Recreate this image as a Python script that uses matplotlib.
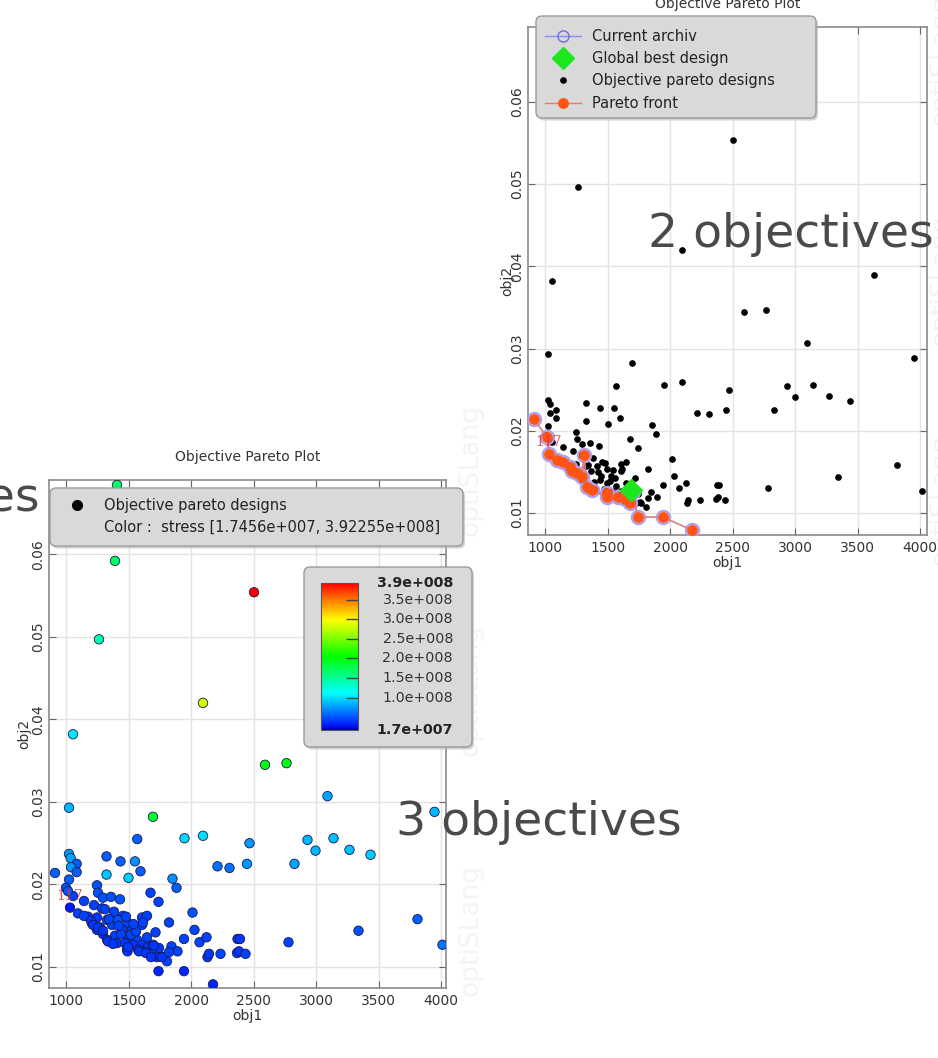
import numpy as np
import matplotlib.pyplot as plt
from matplotlib.colors import LinearSegmentedColormap, Normalize
from matplotlib.cm import ScalarMappable
from matplotlib.lines import Line2D
from matplotlib.patches import FancyBboxPatch
from matplotlib.transforms import blended_transform_factory

# designs that are not on the pareto front
obj1 = [1408, 1392, 2504, 1264, 2096, 1056, 3632, 2592, 2764, 3092, 1024, 3948, 1696,
        1570, 1948, 2096, 2468, 2932, 3140, 2996, 3268, 3436, 2828, 2212, 2308, 2448,
        1324, 1324, 1436, 1500, 1552, 1596, 1852, 1884, 1676, 1740, 2012, 2028, 1824,
        1716, 1944, 2068, 2124, 2372, 2392, 3340, 3812, 4012, 2780, 1844, 1892, 2132,
        2144, 2236, 2368, 2384, 2436, 1808, 1760,
        1024, 1037, 1085, 1040, 1085, 1024, 1248, 1000, 1056, 1256, 1296, 1360, 1432,
        1144, 1224, 1288, 1384, 1456, 1176, 1248, 1328, 1208, 1272, 1368, 1416, 1496,
        1608, 1648, 1608, 1528, 1448, 1248, 1296, 1392, 1496, 1328, 1408, 1472, 1568,
        1648, 1536, 1608, 1656, 1696, 1744, 1488, 1576, 1632, 1688, 1728, 1768, 1824,
        1616, 1344, 1480, 1440, 1520, 1560, 1420, 1540]
obj2 = [0.0684, 0.0592, 0.0554, 0.0497, 0.0420, 0.0382, 0.0390, 0.0345, 0.0347, 0.0307,
        0.0293, 0.0288, 0.0282, 0.0255, 0.0256, 0.0259, 0.0250, 0.0254, 0.0256, 0.0241,
        0.0242, 0.0236, 0.0225, 0.0222, 0.0220, 0.0225, 0.0234, 0.0212, 0.0228, 0.0208,
        0.0228, 0.0216, 0.0207, 0.0196, 0.0190, 0.0179, 0.0166, 0.0145, 0.0154, 0.0142,
        0.0134, 0.0130, 0.0136, 0.0134, 0.0134, 0.0144, 0.0158, 0.0127, 0.0130, 0.0125,
        0.0119, 0.0112, 0.0116, 0.0116, 0.0117, 0.0119, 0.0116, 0.0107, 0.0113,
        0.0237, 0.0232, 0.0225, 0.0221, 0.0215, 0.0206, 0.0199, 0.0196, 0.0186, 0.0190,
        0.0184, 0.0185, 0.0182, 0.0180, 0.0175, 0.0171, 0.0167, 0.0162, 0.0161, 0.0160,
        0.0157, 0.0153, 0.0148, 0.0151, 0.0157, 0.0153, 0.0160, 0.0162, 0.0151, 0.0145,
        0.0145, 0.0145, 0.0140, 0.0138, 0.0136, 0.0133, 0.0129, 0.0129, 0.0133, 0.0136,
        0.0127, 0.0127, 0.0124, 0.0127, 0.0123, 0.0121, 0.0121, 0.0118, 0.0116, 0.0112,
        0.0112, 0.0118, 0.0154, 0.0158, 0.0161, 0.0140, 0.0139, 0.0143, 0.0150, 0.0152]
stress = np.array([1.70, 1.67, 3.92, 1.41, 2.80, 1.04, 0.95, 2.00, 2.00, 0.80, 0.85, 0.85,
                   1.90, 0.55, 0.98, 1.00, 0.75, 0.85, 0.88, 0.85, 0.88, 0.95, 0.80, 0.62,
                   0.62, 0.75, 0.55, 0.92, 0.55, 0.95, 0.72, 0.55, 0.72, 0.55, 0.45, 0.45,
                   0.50, 0.45, 0.45, 0.45, 0.45, 0.45, 0.45, 0.40, 0.40, 0.50, 0.55, 0.60,
                   0.45, 0.45, 0.45, 0.40, 0.40, 0.45, 0.45, 0.40, 0.45, 0.45, 0.45,
                   0.75, 0.80, 0.55, 0.75, 0.55, 0.55, 0.50, 0.50, 0.45, 0.50, 0.50, 0.50,
                   0.50, 0.45, 0.45, 0.45, 0.45, 0.45, 0.40, 0.40, 0.45, 0.40, 0.40, 0.45,
                   0.50, 0.45, 0.45, 0.45, 0.45, 0.45, 0.45, 0.40, 0.40, 0.45, 0.45, 0.40,
                   0.40, 0.40, 0.45, 0.45, 0.40, 0.40, 0.40, 0.40, 0.40, 0.40, 0.40, 0.40,
                   0.40, 0.40, 0.40, 0.45, 0.45, 0.45, 0.45, 0.45, 0.45, 0.45, 0.45, 0.45]) * 1e8

# pareto front designs
front_obj1 = [912, 1016, 1032, 1096, 1144, 1200, 1216, 1256, 1296, 1312, 1336, 1376,
              1492, 1496, 1584, 1640, 1680, 1704, 1740, 1944, 2176]
front_obj2 = [0.0214, 0.0192, 0.0172, 0.0165, 0.0162, 0.0156, 0.0151, 0.0148, 0.0144,
              0.0170, 0.0131, 0.0128, 0.0119, 0.0124, 0.0119, 0.0117, 0.0112, 0.0126,
              0.0095, 0.0095, 0.0079]
front_stress = np.array([0.55, 0.50, 0.30, 0.45, 0.45, 0.40, 0.40, 0.40, 0.40, 0.45,
                         0.40, 0.40, 0.40, 0.40, 0.40, 0.40, 0.40, 0.40, 0.35, 0.35,
                         0.35]) * 1e8

best_obj1, best_obj2 = 1688, 0.0128
tag_text, tag_obj1, tag_obj2 = "117", 1028, 0.0186

stress_min, stress_max = 1.7456e7, 3.92255e8
cbar_values = [stress_max, 3.5e8, 3.0e8, 2.5e8, 2.0e8, 1.5e8, 1.0e8, stress_min]
xticks = [1000, 1500, 2000, 2500, 3000, 3500, 4000]
yticks = [0.01, 0.02, 0.03, 0.04, 0.05, 0.06]

all_obj1 = obj1 + front_obj1
all_obj2 = obj2 + front_obj2
all_stress = np.concatenate([stress, front_stress])

W, H = 938, 1058
fig = plt.figure(figsize=(W / 100, H / 100), dpi=100)
txt = '#333333'

stress_cmap = LinearSegmentedColormap.from_list(
    'stress', [(0.0, '#0000a0'), (0.03, '#0018ff'), (0.25, '#00ffff'), (0.5, '#00ff00'),
               (0.75, '#ffff00'), (0.88, '#ff8000'), (1.0, '#ff0000')])
norm = Normalize(stress_min, stress_max)


def rect(x0, y0, x1, y1):
    # pixel box, origin top left -> figure fraction
    return [x0 / W, 1 - y1 / H, (x1 - x0) / W, (y1 - y0) / H]


def grey_box(ax, x0, y0, x1, y1):
    kw = dict(boxstyle="round,pad=0,rounding_size=0.06", transform=fig.dpi_scale_trans,
              clip_on=False)
    sh = FancyBboxPatch((x0 / 100 + 0.02, (H - y1) / 100 - 0.025), (x1 - x0) / 100,
                        (y1 - y0) / 100, fc='#b5b5b5', ec='none', alpha=0.6, zorder=4.4, **kw)
    bx = FancyBboxPatch((x0 / 100, (H - y1) / 100), (x1 - x0) / 100, (y1 - y0) / 100,
                        fc='#d9d9d9', ec='#9a9a9a', lw=1, zorder=4.5, **kw)
    ax.add_artist(sh)
    ax.add_artist(bx)


def setup(ax, xlim, ylim, ylab_x):
    ax.set_xlim(*xlim)
    ax.set_ylim(*ylim)
    ax.set_xticks(xticks)
    ax.set_yticks(yticks)
    ax.set_yticklabels([f"{v:.2f}" for v in yticks])
    ax.grid(color='#e3e3e3', lw=1)
    ax.set_axisbelow(True)
    ax.tick_params(direction='in', top=True, right=True, length=5, color='#666666',
                   labelsize=10, labelcolor=txt)
    ax.tick_params(axis='x', pad=4)
    ax.tick_params(axis='y', labelrotation=90, pad=3)
    plt.setp(ax.get_yticklabels(), va='center')
    for s in ax.spines.values():
        s.set_color('#8a8a8a')
        s.set_linewidth(1.2)
    ax.set_xlabel('obj1', fontsize=10, color=txt, labelpad=1)
    ax.set_ylabel('obj2', fontsize=10, color=txt)
    ax.yaxis.set_label_coords(ylab_x, 0.5)
    ax.set_title('Objective Pareto Plot', fontsize=10, color=txt, pad=14)


# faint vertical logo text beside the plots
for x, y in [(470, 470), (470, 690), (470, 930), (941, 60), (941, 280), (941, 500)]:
    fig.text(x / W, 1 - y / H, 'optiSLang', rotation=90, fontsize=19, color='#f4f4f4',
             ha='center', va='center', zorder=-1)

# 3 objectives: designs coloured by stress
ax1 = fig.add_axes(rect(49, 480, 446, 988))
setup(ax1, (864, 4040), (0.00746, 0.0690), -0.045)
ax1.scatter(all_obj1, all_obj2, c=all_stress, cmap=stress_cmap, norm=norm, s=46,
            edgecolors='#18184a', linewidths=0.6, zorder=3)
ax1.text(tag_obj1, tag_obj2, tag_text, color='#e0303f', family='DejaVu Serif', fontsize=10,
         ha='center', va='center', alpha=0.85, zorder=4)

grey_box(ax1, 50, 488, 463, 546)
h1 = [Line2D([], [], ls='none', marker='o', ms=7, color='black'), Line2D([], [], ls='none')]
leg1 = ax1.legend(h1, ['Objective pareto designs',
                       'Color :  stress [1.7456e+007, 3.92255e+008]'],
                  loc='upper left', bbox_to_anchor=(57 / W, 1 - 492 / H),
                  bbox_transform=fig.transFigure, frameon=False, fontsize=10.5,
                  handlelength=2.0, handletextpad=0.8, borderaxespad=0, labelspacing=0.45,
                  labelcolor='#222222')
leg1.set_zorder(6)

grey_box(ax1, 304, 567, 472, 747)
cax = fig.add_axes(rect(321, 583, 358, 730))
cb = fig.colorbar(ScalarMappable(norm=norm, cmap=stress_cmap), cax=cax)
cb.set_ticks(cbar_values[1:-1])
cax.tick_params(direction='in', length=9, width=1, color='#444444', left=False, right=True,
                labelright=False, labelleft=False)
cb.outline.set_edgecolor('#555555')
trans = blended_transform_factory(cax.transAxes, cax.transData)
for i, v in enumerate(cbar_values):
    lab = f"{v:.1e}".replace("e+0", "e+00")
    bold = i in (0, len(cbar_values) - 1)
    cax.text(3.57, v, lab, transform=trans, ha='right', va='center', fontsize=10.3,
             color='#222222' if bold else txt, weight='bold' if bold else 'normal',
             clip_on=False)

# 2 objectives: designs, archive, front and best design
ax2 = fig.add_axes(rect(528, 27, 927, 535))
setup(ax2, (864, 4056), (0.00732, 0.0691), -0.035)
ax2.plot(all_obj1, all_obj2, ls='none', marker='o', ms=3.8, color='black', zorder=3)
ax2.plot(front_obj1, front_obj2, color='#9a9af2', lw=1, marker='o', ms=9.5, mfc='none',
         mec='#ad9ef0', mew=1.6, zorder=4)
ax2.plot(front_obj1, front_obj2, color='#ec7a6c', lw=1, marker='o', ms=6.8, mfc='#ff5414',
         mec='#ff5414', zorder=4.2)
ax2.plot(best_obj1, best_obj2, ls='none', marker='D', ms=11, color='#1ee61e', zorder=4.3)
ax2.text(tag_obj1, tag_obj2, tag_text, color='#e0303f', family='DejaVu Serif', fontsize=10,
         ha='center', va='center', alpha=0.85, zorder=4.4)

grey_box(ax2, 536, 16, 816, 118)
h2 = [Line2D([], [], color='#8a8af5', lw=1, marker='o', ms=8, mfc='none', mec='#6a6aee'),
      Line2D([], [], ls='none', marker='D', ms=11, color='#1ee61e'),
      Line2D([], [], ls='none', marker='o', ms=3.8, color='black'),
      Line2D([], [], color='#ec7a6c', lw=1, marker='o', ms=6.8, mfc='#ff5414',
             mec='#ff5414')]
leg2 = ax2.legend(h2, ['Current archiv', 'Global best design', 'Objective pareto designs',
                       'Pareto front'],
                  loc='upper left', bbox_to_anchor=(539 / W, 1 - 23 / H),
                  bbox_transform=fig.transFigure, frameon=False, fontsize=10.5,
                  handlelength=2.5, handletextpad=0.75, borderaxespad=0, labelspacing=0.5,
                  labelcolor='#222222')
leg2.set_zorder(6)

# slide captions
cap = dict(fontsize=34, color='#4a4a4a', va='baseline', zorder=10)
fig.text(648 / W, 1 - 247 / H, '2 objectives', ha='left', **cap)
fig.text(396 / W, 1 - 835 / H, '3 objectives', ha='left', **cap)
fig.text(40 / W, 1 - 511 / H, 'objectives', ha='right', **cap)

fig.savefig('out.png', dpi=100)
